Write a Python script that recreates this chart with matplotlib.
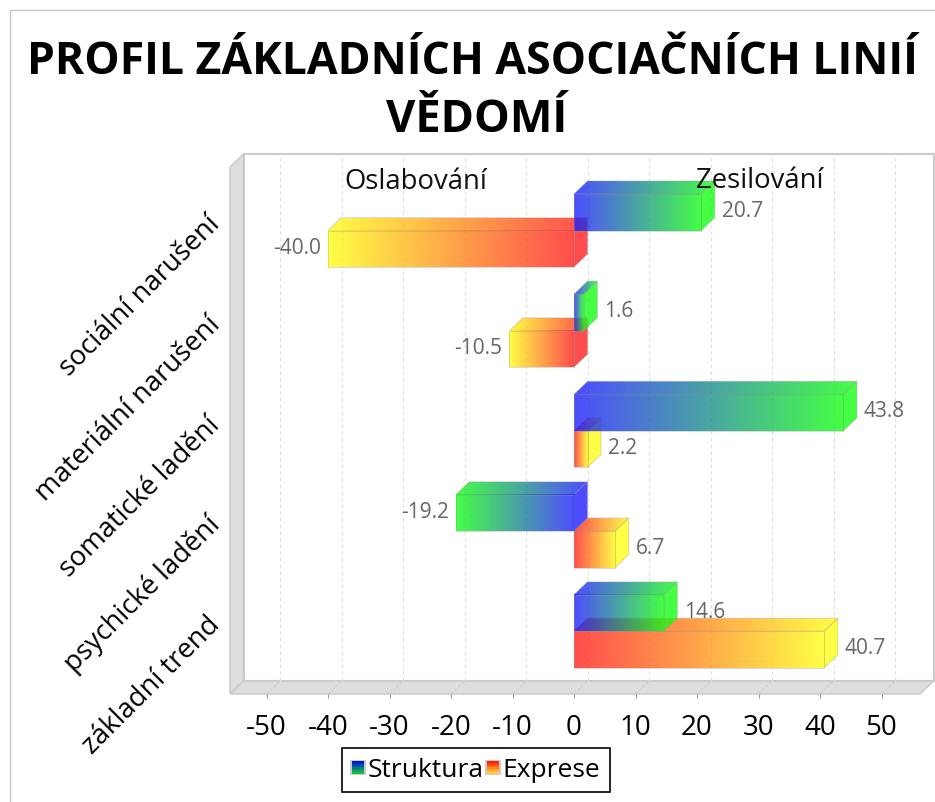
import numpy as np
import matplotlib
matplotlib.use('Agg')
from matplotlib import pyplot as plt
from matplotlib.patches import Polygon, Rectangle
from matplotlib.legend_handler import HandlerBase
from matplotlib.colors import to_rgb
from matplotlib.transforms import Affine2D

categories = ['sociální narušení', 'materiální narušení', 'somatické ladění', 'psychické ladění', 'základní trend']
struktura = [20.7, 1.6, 43.8, -19.2, 14.6]
exprese = [-40.0, -10.5, 2.2, 6.7, 40.7]
x_ticks = [-50, -40, -30, -20, -10, 0, 10, 20, 30, 40, 50]

W, H = 935, 803
BLUE, GREEN = '#1a1aff', '#10ff10'
RED, YELLOW = '#ff1a1a', '#ffff10'
ALPHA = 0.78
EDGE = (0.6, 0.6, 0.6, 0.35)
FONT = 'Open Sans'

plt.rcParams['font.family'] = FONT

fig = plt.figure(figsize=(W / 100, H / 100), dpi=100)

# front plane of the 3d plot, in pixels
left, right, top, bottom = 230, 920, 168, 695
ax = fig.add_axes([left / W, 1 - bottom / H, (right - left) / W, (bottom - top) / H])
xlim = ((left - 574) / 6.15, (right - 574) / 6.15)
ylim = ((bottom - 231.5) / 100.2, (top - 231.5) / 100.2)
dx = 13.5 / 6.15
dy = -13 / 100.2
bar_h = 36.5 / 100.2


def grad_image(c0, c1, x0, x1, y0, y1, clip=None):
    # c0 is the colour at value 0, c1 the colour at the bar end
    t = np.linspace(0, 1, 256)
    if x1 < x0:
        t = t[::-1]
    rgb = np.outer(1 - t, to_rgb(c0)) + np.outer(t, to_rgb(c1))
    im = ax.imshow(rgb[None, :, :], extent=[min(x0, x1), max(x0, x1), y1, y0], aspect='auto',
                   interpolation='bilinear', alpha=ALPHA, zorder=2)
    if clip is not None:
        im.set_clip_path(clip)
    return im


def bar3d(v, y0, y1, c0, c1):
    # top face
    pts = [(0, y0), (v, y0), (v + dx, y0 + dy), (dx, y0 + dy)]
    clip = Polygon(pts, closed=True, fc='none', ec='none', zorder=2)
    ax.add_patch(clip)
    if v >= 0:
        grad_image(c0, c1, 0, v + dx, y0 + dy, y0, clip)
    else:
        grad_image(c0, c1, dx, v, y0 + dy, y0, clip)
    ax.add_patch(Polygon(pts, closed=True, fc='none', ec=EDGE, lw=0.8, zorder=2))
    # side face, solid colour of whichever end faces right
    side = c1 if v >= 0 else c0
    xs = max(v, 0)
    ax.add_patch(Polygon([(xs, y0), (xs + dx, y0 + dy), (xs + dx, y1 + dy), (xs, y1)], closed=True,
                         fc=to_rgb(side) + (ALPHA,), ec=EDGE, lw=0.8, zorder=2))
    # front face
    grad_image(c0, c1, 0, v, y0, y1)
    ax.add_patch(Rectangle((min(0, v), y0), abs(v), y1 - y0, fc='none', ec=EDGE, lw=0.8, zorder=2))


def value_label(v, y0, y1):
    yc = (y0 + y1) / 2
    if v >= 0:
        ax.annotate('%.1f' % v, (v + dx, yc), xytext=(7, 2), textcoords='offset pixels', ha='left',
                    va='center', fontsize=15, color='#666666', zorder=5, annotation_clip=False)
    else:
        ax.annotate('%.1f' % v, (v, yc), xytext=(-7, 1), textcoords='offset pixels', ha='right',
                    va='center', fontsize=15, color='#666666', zorder=5, annotation_clip=False)


# walls
wall_c = '#dedede'
ax.add_patch(Polygon([(xlim[0] + dx, ylim[1] + dy), (xlim[1] + dx, ylim[1] + dy), (xlim[1] + dx, ylim[0] + dy),
                      (xlim[0] + dx, ylim[0] + dy)], closed=True, fc='white', ec='#cccccc', lw=1.5, zorder=0.5))
ax.add_patch(Polygon([(xlim[0], ylim[1]), (xlim[0] + dx, ylim[1] + dy), (xlim[0] + dx, ylim[0] + dy),
                      (xlim[0], ylim[0])], closed=True, fc=wall_c, ec='#c8c8c8', lw=1, zorder=0.6))
ax.add_patch(Polygon([(xlim[0], ylim[0]), (xlim[0] + dx, ylim[0] + dy), (xlim[1] + dx, ylim[0] + dy),
                      (xlim[1], ylim[0])], closed=True, fc=wall_c, ec='#c8c8c8', lw=1, zorder=0.6))
for t in x_ticks:
    ax.plot([t + dx, t + dx], [ylim[0] + dy, ylim[1] + dy], color='#dddddd', lw=0.8, ls=(0, (3, 3)), zorder=1)
    ax.plot([t, t + dx], [ylim[0], ylim[0] + dy], color='#cccccc', lw=0.7, ls=(0, (3, 2)), zorder=1)

for i in range(len(categories)):
    bar3d(exprese[i], i, i + bar_h, RED, YELLOW)
    bar3d(struktura[i], i - bar_h, i, BLUE, GREEN)
for i in range(len(categories)):
    value_label(exprese[i], i, i + bar_h)
    value_label(struktura[i], i - bar_h, i)

ax.set_xlim(xlim)
ax.set_ylim(ylim)
for s in ax.spines.values():
    s.set_visible(False)
ax.patch.set_alpha(0)
for ch in ax.get_children():
    if hasattr(ch, 'set_clip_on') and not ch.get_clip_path():
        ch.set_clip_on(False)

ax.set_xticks(x_ticks)
ax.set_xticklabels([str(t) for t in x_ticks], fontsize=20, color='black')
ax.tick_params(axis='x', length=3, width=0.8, color='#999999', pad=11)
ax.set_yticks(range(len(categories)))
ax.set_yticklabels(categories, fontsize=19.7, rotation=45, ha='right', va='center', rotation_mode='anchor', color='black')
ax.tick_params(axis='y', length=0, pad=8)
for lab in ax.get_yticklabels():
    lab.set_transform(lab.get_transform() + Affine2D().translate(-3, 11))

fig.text(472 / W, 1 - 63 / H, 'PROFIL ZÁKLADNÍCH ASOCIAČNÍCH LINIÍ', ha='center', va='center',
         fontsize=32, fontweight='bold', color='black')
fig.text(477 / W, 1 - 121 / H, 'VĚDOMÍ', ha='center', va='center', fontsize=32.5, fontweight='bold', color='black')
fig.text(416 / W, 1 - 182 / H, 'Oslabování', ha='center', va='center', fontsize=19.8, color='#111111', zorder=6)
fig.text(760 / W, 1 - 181 / H, 'Zesilování', ha='center', va='center', fontsize=19.8, color='#111111', zorder=6)

# chart border, only top and left show
fig.add_artist(plt.Line2D([10 / W, 10 / W, 1], [0, 1 - 11 / H, 1 - 11 / H], color='#c8c8c8', lw=1))


class GradHandler(HandlerBase):
    def create_artists(self, legend, orig, xd, yd, width, height, fontsize, trans):
        c0, c1 = orig.colors
        n = 8
        out = []
        s = 9
        x = -xd + (width - s) / 2
        y = -yd + (height - s) / 2
        out.append(Rectangle((x - 1, y - 1), s + 2, s + 2, fc='#cccccc', ec='none', transform=trans))
        for k in range(n):
            t = k / (n - 1)
            c = (1 - t) * np.array(to_rgb(c0)) + t * np.array(to_rgb(c1))
            out.append(Rectangle((x, y + s * (1 - (k + 1) / n)), s, s / n, fc=c, ec='none', transform=trans))
        return out


class GradKey:
    def __init__(self, colors):
        self.colors = colors


leg = fig.legend([GradKey(('#0018e0', '#10c040')), GradKey(('#ff2000', '#ffd040'))], ['Struktura', 'Exprese'],
                 handler_map={GradKey: GradHandler()}, ncol=2, fontsize=19, loc='center',
                 bbox_to_anchor=(476 / W, 1 - 771 / H), frameon=True, fancybox=False, edgecolor='black',
                 framealpha=1, handlelength=0.5, handletextpad=0.12, columnspacing=0.1, borderpad=0.35,
                 borderaxespad=0)
leg.get_frame().set_linewidth(1.2)

fig.savefig('out.png', dpi=100)
